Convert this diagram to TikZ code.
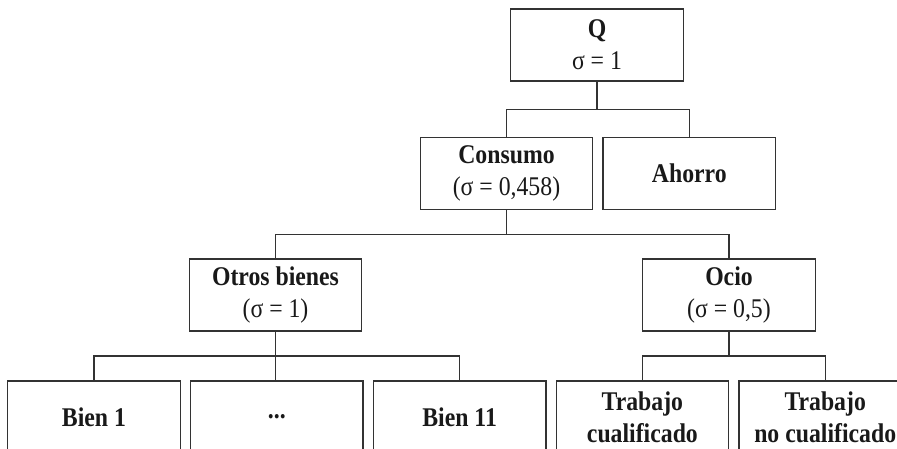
\documentclass[tikz,border=0pt]{standalone}
\usepackage{fontspec}
\setmainfont[FakeStretch=0.88]{Liberation Serif}
\usetikzlibrary{positioning,calc}
\begin{document}
\begin{tikzpicture}[x=1pt, y=-1pt,
  caja/.style={draw=black!80, line width=1.3pt, align=center, minimum width=172.5pt,
    minimum height=72pt, inner sep=2pt, text=black!90, font=\fontsize{27}{32}\selectfont},
  rama/.style={draw=black!80, line width=1.3pt}]
\useasboundingbox (0,0) rectangle (897,449);
\clip (0,0) rectangle (897,449);

% niveles superiores
\node[caja] (q) at (597,45) {\textbf{Q}\\σ = 1};
\node[caja] (consumo) at (506.5,173.5) {\textbf{Consumo}\\(σ = 0,458)};
\node[caja, right=9pt of consumo] (ahorro) {\textbf{Ahorro}};
\node[caja] (otros) at (275.5,295) {\textbf{Otros bienes}\\(σ = 1)};
\node[caja] (ocio) at (729,295) {\textbf{Ocio}\\(σ = 0,5)};

% fila inferior
\node[caja] (bien1) at (94,417) {\textbf{Bien 1}};
\node[caja, right=9pt of bien1] (puntos) {\textbf{...}};
\node[caja, right=9pt of puntos] (bien11) {\textbf{Bien 11}};
\node[caja, right=9pt of bien11] (trab) {\textbf{Trabajo}\\\textbf{cualificado}};
\node[caja, right=9pt of trab] (notrab) {\textbf{Trabajo}\\\textbf{no cualificado}};

% ramas
\coordinate (b1) at ($(q.south)!0.5!(consumo.north)$);
\coordinate (b2) at ($(consumo.south)!0.5!(otros.north)$);
\coordinate (b3) at ($(otros.south)!0.5!(puntos.north)$);
\coordinate (b4) at ($(ocio.south)!0.5!(trab.north)$);

\draw[rama] (q.south) -- (q.south |- b1);
\draw[rama] (consumo.north) |- (b1) -| (ahorro.north);
\draw[rama] (consumo.south) -- (consumo.south |- b2);
\draw[rama] (otros.north) |- (b2) -| (ocio.north);
\draw[rama] (otros.south) -- (otros.south |- puntos.north);
\draw[rama] (bien1.north) |- (b3) -| (bien11.north);
\draw[rama] (ocio.south) -- (ocio.south |- b4);
\draw[rama] (trab.north) |- (b4) -| (notrab.north);
\end{tikzpicture}
\end{document}
